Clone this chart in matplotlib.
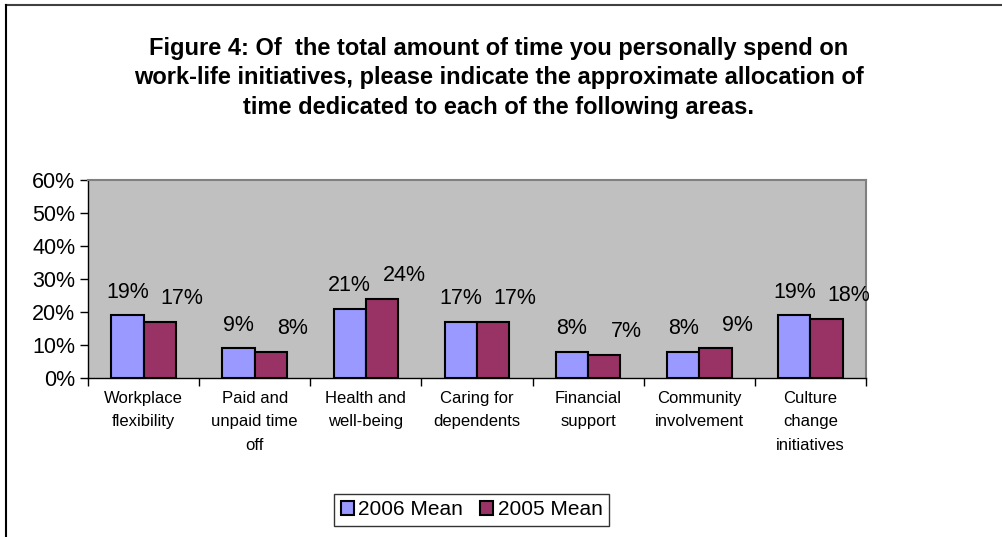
import numpy as np
import matplotlib.pyplot as plt
from matplotlib.lines import Line2D

plt.rcParams['font.family'] = ['Liberation Sans', 'DejaVu Sans']

categories = ["Workplace\nflexibility", "Paid and\nunpaid time\noff", "Health and\nwell-being",
              "Caring for\ndependents", "Financial\nsupport", "Community\ninvolvement",
              "Culture\nchange\ninitiatives"]
mean_2006 = [19, 9, 21, 17, 8, 8, 19]
mean_2005 = [17, 8, 24, 17, 7, 9, 18]
series_names = ["2006 Mean", "2005 Mean"]
yticks = [0, 10, 20, 30, 40, 50, 60]

fig = plt.figure(figsize=(10.03, 5.37), dpi=100)
ax = fig.add_axes([0.0877, 0.296, 0.7757, 0.3687])
ax.set_facecolor('#C0C0C0')

x = np.arange(len(categories)) + 0.5
w = 0.29
b1 = ax.bar(x - w / 2, mean_2006, w, color='#9999FF', edgecolor='black', linewidth=1.5,
            label=series_names[0])
b2 = ax.bar(x + w / 2, mean_2005, w, color='#993366', edgecolor='black', linewidth=1.5,
            label=series_names[1])

for xi, v in zip(x - w / 2, mean_2006):
    ax.annotate(f"{v}%", (xi, v), xytext=(0, 23), textcoords='offset pixels',
                ha='center', va='center', fontsize=15.5)
for xi, v in zip(x + w / 2, mean_2005):
    ax.annotate(f"{v}%", (xi, v), xytext=(22, 23), textcoords='offset pixels',
                ha='center', va='center', fontsize=15.5)

ax.set_xlim(0, len(categories))
ax.set_ylim(0, 60)
ax.set_yticks(yticks)
ax.set_yticklabels([f"{t}%" for t in yticks], fontsize=15.5)
ax.set_xticks(np.arange(len(categories) + 1))
ax.set_xticklabels([])
ax.set_xticks(x, minor=True)
ax.set_xticklabels(categories, minor=True, fontsize=12, linespacing=1.73, va='top')
ax.tick_params(axis='x', which='minor', length=0, pad=9)
ax.tick_params(axis='x', which='major', length=6, direction='out', width=1)
ax.tick_params(axis='y', length=6, direction='out', width=1, pad=3)

for s in ['top', 'right']:
    ax.spines[s].set_color('#808080')
    ax.spines[s].set_linewidth(1.5)
for s in ['left', 'bottom']:
    ax.spines[s].set_color('black')
    ax.spines[s].set_linewidth(1)

fig.text(0.497, 0.855,
         "Figure 4: Of  the total amount of time you personally spend on\n"
         "work-life initiatives, please indicate the approximate allocation of\n"
         "time dedicated to each of the following areas.",
         ha='center', va='center', fontsize=17, fontweight='bold', linespacing=1.36)

leg = fig.legend(loc='center', bbox_to_anchor=(0.4701, 0.0503), ncol=2, fontsize=15,
                 frameon=True, fancybox=False, edgecolor='black', handlelength=0.65,
                 handleheight=0.65, handletextpad=0.2, columnspacing=0.8,
                 borderpad=0.3)
leg.get_frame().set_linewidth(1)

# outer chart frame (top and left edges)
fig.add_artist(Line2D([0.006, 1.0], [0.991, 0.991], color='#404040', linewidth=1.5,
                      transform=fig.transFigure))
fig.add_artist(Line2D([0.006, 0.006], [0.0, 0.991], color='black', linewidth=1.5,
                      transform=fig.transFigure))

fig.savefig('out.png', dpi=100)
